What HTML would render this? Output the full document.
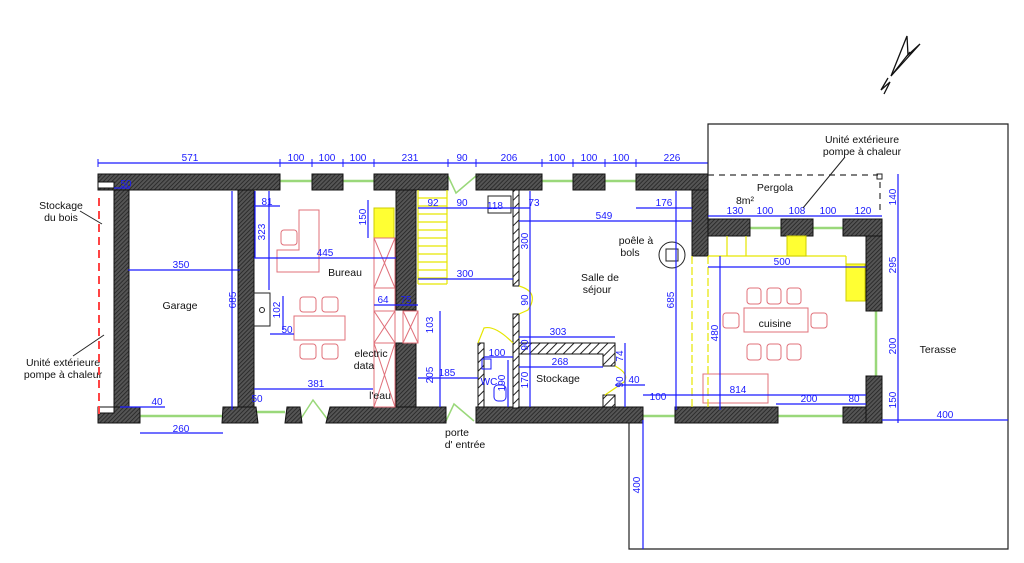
<!DOCTYPE html>
<html><head><meta charset="utf-8"><style>
html,body{margin:0;padding:0;background:#fff;}
svg{display:block;font-family:"Liberation Sans",sans-serif;}
.d{fill:#1a1aff;font-size:10px;text-anchor:middle;}
.t{fill:#111;font-size:10.5px;text-anchor:middle;}
.b{stroke:#1a1aff;stroke-width:1.2;fill:none;}
.p{stroke:#e0707a;stroke-width:1;fill:none;}
.y{stroke:#e6e600;stroke-width:1.2;fill:none;}
.g{stroke:#9ad87a;stroke-width:2.5;}
.w{fill:url(#h);stroke:#111;stroke-width:1;}
</style></head><body>
<svg width="1024" height="563" viewBox="0 0 1024 563">
<defs>
<pattern id="h" width="3" height="3" patternUnits="userSpaceOnUse" patternTransform="rotate(45)">
<rect width="3" height="3" fill="#555"/><line x1="0" y1="0" x2="0" y2="3" stroke="#222" stroke-width="1.6"/>
</pattern>
<pattern id="h2" width="6" height="6" patternUnits="userSpaceOnUse" patternTransform="rotate(45)">
<rect width="6" height="6" fill="#fff"/><line x1="0" y1="0" x2="0" y2="6" stroke="#222" stroke-width="2"/>
</pattern>
</defs>

<polyline points="708,174 708,124 1008,124 1008,549 629,549 629,420" fill="none" stroke="#222" stroke-width="1.2"/>
<polyline points="708,175 878,175" fill="none" stroke="#333" stroke-dasharray="6,5" stroke-width="1.2"/>
<line x1="880" y1="182" x2="880" y2="210" stroke="#333" stroke-dasharray="6,5" stroke-width="1.2"/>
<rect x="877" y="174" width="5" height="5" fill="none" stroke="#222"/>

<line class="g" x1="280" y1="181" x2="312" y2="181"/>
<line class="g" x1="343" y1="181" x2="374" y2="181"/>
<line class="g" x1="542" y1="181" x2="573" y2="181"/>
<line class="g" x1="605" y1="181" x2="636" y2="181"/>
<line class="g" x1="750" y1="228" x2="781" y2="228"/>
<line class="g" x1="813" y1="228" x2="843" y2="228"/>
<line class="g" x1="876" y1="311" x2="876" y2="376"/>
<line class="g" x1="778" y1="416" x2="843" y2="416"/>
<line class="g" x1="643" y1="416" x2="675" y2="416"/>
<line class="g" x1="140" y1="416" x2="223" y2="416"/>
<line class="g" x1="257" y1="412" x2="285" y2="412"/>
<polyline points="300,420 313,400 328,420" fill="none" stroke="#9ad87a" stroke-width="1.5"/>
<polyline points="448,176 456,193 476,176" fill="none" stroke="#9ad87a" stroke-width="1.5"/>
<polyline points="446,421 454,404 474,421" fill="none" stroke="#9ad87a" stroke-width="1.5"/>

<rect class="w" x="98" y="174" width="182" height="16"/>
<rect x="98" y="182" width="16" height="6" fill="#fff" stroke="#111"/>
<rect class="w" x="114" y="190" width="15" height="220"/>
<rect class="w" x="98" y="407" width="42" height="16"/>
<rect x="98" y="407" width="16" height="6" fill="#fff" stroke="#111"/>
<rect class="w" x="238" y="190" width="16" height="218"/>
<polygon class="w" points="223,407 256,407 258,423 222,423"/>
<polygon class="w" points="287,407 300,407 302,423 285,423"/>
<polygon class="w" points="330,407 446,407 446,423 326,423"/>
<rect class="w" x="312" y="174" width="31" height="16"/>
<rect class="w" x="374" y="174" width="74" height="16"/>
<rect class="w" x="396" y="190" width="20" height="120"/>
<rect class="w" x="396" y="343" width="20" height="64"/>
<rect class="w" x="476" y="174" width="66" height="16"/>
<rect class="w" x="573" y="174" width="32" height="16"/>
<rect class="w" x="636" y="174" width="72" height="16"/>
<rect class="w" x="692" y="190" width="16" height="66"/>
<rect class="w" x="708" y="219" width="42" height="17"/>
<rect class="w" x="781" y="219" width="32" height="17"/>
<rect class="w" x="843" y="219" width="39" height="17"/>
<rect class="w" x="866" y="236" width="16" height="75"/>
<rect class="w" x="866" y="376" width="16" height="47"/>
<rect class="w" x="843" y="407" width="23" height="16"/>
<rect class="w" x="675" y="407" width="103" height="16"/>
<rect class="w" x="476" y="407" width="167" height="16"/>
<rect x="513" y="190" width="6" height="96" fill="url(#h2)" stroke="#111"/>
<rect x="513" y="314" width="6" height="94" fill="url(#h2)" stroke="#111"/>
<rect x="478" y="343" width="6" height="64" fill="url(#h2)" stroke="#111"/>
<polygon points="519,343 615,343 615,366 603,366 603,354 519,354" fill="url(#h2)" stroke="#111"/>
<rect x="603" y="395" width="12" height="12" fill="url(#h2)" stroke="#111"/>

<path d="M519,286 Q540,292 528,310 L519,314" class="y"/>
<path d="M513,343 Q495,325 484,328 L478,343" class="y"/>
<path d="M615,366 Q630,374 624,382 L605,395" class="y"/>

<g class="y">
<line x1="418" y1="190" x2="418" y2="284"/>
<line x1="447" y1="190" x2="447" y2="284"/>
<line x1="418" y1="284" x2="447" y2="284"/>
<line x1="418" y1="198" x2="447" y2="198"/><line x1="418" y1="206" x2="447" y2="206"/><line x1="418" y1="214" x2="447" y2="214"/>
<line x1="418" y1="222" x2="447" y2="222"/><line x1="418" y1="230" x2="447" y2="230"/><line x1="418" y1="238" x2="447" y2="238"/>
<line x1="418" y1="246" x2="447" y2="246"/><line x1="418" y1="254" x2="447" y2="254"/><line x1="418" y1="262" x2="447" y2="262"/>
<line x1="418" y1="270" x2="447" y2="270"/><line x1="418" y1="278" x2="447" y2="278"/>
</g>
<rect x="374" y="208" width="20" height="30" fill="#ffff33" stroke="#cc0"/>

<g class="p">
<rect x="374" y="238" width="21" height="169"/>
<line x1="374" y1="238" x2="395" y2="288"/><line x1="395" y1="238" x2="374" y2="288"/>
<line x1="374" y1="288" x2="395" y2="288"/>
<rect x="374" y="311" width="21" height="32"/><line x1="374" y1="311" x2="395" y2="343"/><line x1="395" y1="311" x2="374" y2="343"/>
<line x1="374" y1="343" x2="395" y2="407"/><line x1="395" y1="343" x2="374" y2="407"/>
<rect x="403" y="311" width="15" height="32"/><line x1="403" y1="311" x2="418" y2="343"/><line x1="418" y1="311" x2="403" y2="343"/>
<polygon points="299,210 319,210 319,272 277,272 277,250 299,250"/>
<rect x="281" y="230" width="16" height="15" rx="3"/>
<rect x="294" y="316" width="51" height="24"/>
<rect x="300" y="297" width="16" height="15" rx="3"/><rect x="322" y="297" width="16" height="15" rx="3"/>
<rect x="300" y="344" width="16" height="15" rx="3"/><rect x="322" y="344" width="16" height="15" rx="3"/>
<rect x="744" y="308" width="64" height="24"/>
<rect x="747" y="288" width="14" height="16" rx="3"/><rect x="767" y="288" width="14" height="16" rx="3"/><rect x="787" y="288" width="14" height="16" rx="3"/>
<rect x="747" y="344" width="14" height="16" rx="3"/><rect x="767" y="344" width="14" height="16" rx="3"/><rect x="787" y="344" width="14" height="16" rx="3"/>
<rect x="723" y="313" width="16" height="15" rx="3"/><rect x="811" y="313" width="16" height="15" rx="3"/>
<rect x="703" y="374" width="65" height="29"/><line x1="710" y1="395" x2="768" y2="395"/>
</g>
<rect x="254" y="293" width="16" height="33" fill="#fff" stroke="#222"/><circle cx="262" cy="310" r="2.5" fill="none" stroke="#222"/>
<rect x="488" y="196" width="23" height="17" fill="none" stroke="#222"/>
<circle cx="672" cy="255" r="13" fill="none" stroke="#222"/><rect x="666" y="249" width="12" height="12" fill="none" stroke="#222"/>
<rect x="482" y="359" width="9" height="10" fill="none" stroke="#1a1aff"/>
<rect x="494" y="385" width="12" height="16" rx="4" fill="none" stroke="#1a1aff"/>

<g class="y">
<line x1="708" y1="256" x2="846" y2="256"/>
<line x1="846" y1="256" x2="846" y2="264"/>
<line x1="727" y1="236" x2="727" y2="256"/><line x1="746" y1="236" x2="746" y2="256"/>
<line x1="692" y1="256" x2="692" y2="407" stroke-dasharray="8,3"/>
<line x1="708" y1="256" x2="708" y2="407" stroke-dasharray="8,3"/>
</g>
<rect x="787" y="236" width="19" height="20" fill="#ffff33" stroke="#cc0"/>
<rect x="846" y="264" width="19" height="37" fill="#ffff33" stroke="#cc0"/>

<g class="b">
<line x1="98" y1="163" x2="708" y2="163"/>
<line x1="114" y1="188" x2="130" y2="188"/>
<line x1="128" y1="270" x2="240" y2="270"/>
<line x1="232" y1="191" x2="232" y2="410"/>
<line x1="120" y1="407" x2="165" y2="407"/><line x1="140" y1="433" x2="223" y2="433"/>
<line x1="254" y1="206" x2="280" y2="206"/><line x1="255" y1="191" x2="255" y2="258"/>
<line x1="269" y1="191" x2="269" y2="290"/>
<line x1="254" y1="258" x2="396" y2="258"/>
<line x1="283" y1="296" x2="283" y2="330"/><line x1="270" y1="334" x2="294" y2="334"/>
<line x1="254" y1="389" x2="373" y2="389"/>
<line x1="368" y1="200" x2="368" y2="238"/>
<line x1="374" y1="305" x2="418" y2="305"/>
<line x1="418" y1="208" x2="530" y2="208"/>
<line x1="440" y1="311" x2="440" y2="407"/><line x1="418" y1="378" x2="478" y2="378"/>
<line x1="418" y1="279" x2="513" y2="279"/>
<line x1="530" y1="191" x2="530" y2="354"/>
<line x1="519" y1="221" x2="692" y2="221"/>
<line x1="636" y1="208" x2="692" y2="208"/>
<line x1="519" y1="337" x2="615" y2="337"/>
<line x1="519" y1="367" x2="603" y2="367"/>
<line x1="530" y1="354" x2="530" y2="407"/>
<line x1="484" y1="357" x2="513" y2="357"/><line x1="508" y1="360" x2="508" y2="407"/>
<line x1="625" y1="343" x2="625" y2="366"/>
<line x1="625" y1="366" x2="625" y2="407"/><line x1="615" y1="385" x2="645" y2="385"/>
<line x1="676" y1="191" x2="676" y2="410"/>
<line x1="643" y1="395" x2="866" y2="395"/>
<line x1="643" y1="420" x2="643" y2="549"/>
<line x1="708" y1="216" x2="882" y2="216"/>
<line x1="708" y1="267" x2="866" y2="267"/>
<line x1="720" y1="256" x2="720" y2="410"/>
<line x1="776" y1="404" x2="866" y2="404"/>
<line x1="898" y1="174" x2="898" y2="423"/>
<line x1="882" y1="420" x2="1008" y2="420"/>
</g>
<g stroke="#1a1aff" stroke-width="1">
<line x1="98" y1="159" x2="98" y2="167"/><line x1="280" y1="159" x2="280" y2="167"/><line x1="312" y1="159" x2="312" y2="167"/><line x1="343" y1="159" x2="343" y2="167"/><line x1="374" y1="159" x2="374" y2="167"/><line x1="448" y1="159" x2="448" y2="167"/><line x1="476" y1="159" x2="476" y2="167"/><line x1="542" y1="159" x2="542" y2="167"/><line x1="573" y1="159" x2="573" y2="167"/><line x1="605" y1="159" x2="605" y2="167"/><line x1="636" y1="159" x2="636" y2="167"/>
</g>
<line x1="708" y1="160" x2="708" y2="174" stroke="#222"/>

<g class="d">
<text x="190" y="161">571</text><text x="296" y="161">100</text><text x="327" y="161">100</text><text x="358" y="161">100</text><text x="410" y="161">231</text><text x="462" y="161">90</text><text x="509" y="161">206</text><text x="557" y="161">100</text><text x="589" y="161">100</text><text x="621" y="161">100</text><text x="672" y="161">226</text>
<text x="126" y="187">50</text>
<text x="181" y="268">350</text>
<text x="157" y="405">40</text><text x="181" y="432">260</text>
<text x="257" y="402">50</text>
<text x="267" y="205">81</text>
<text x="325" y="256">445</text>
<text x="287" y="333">50</text>
<text x="316" y="387">381</text>
<text x="383" y="303">64</text><text x="406" y="303">75</text>
<text x="433" y="206">92</text><text x="462" y="206">90</text><text x="495" y="209">118</text><text x="534" y="206">73</text>
<text x="465" y="277">300</text>
<text x="447" y="376">185</text>
<text x="604" y="219">549</text><text x="664" y="206">176</text>
<text x="558" y="335">303</text><text x="560" y="365">268</text>
<text x="497" y="356">100</text><text x="489" y="385">WC</text>
<text x="634" y="383">40</text>
<text x="658" y="400">100</text>
<text x="735" y="214">130</text><text x="765" y="214">100</text><text x="797" y="214">108</text><text x="828" y="214">100</text><text x="863" y="214">120</text>
<text x="782" y="265">500</text>
<text x="738" y="393">814</text>
<text x="809" y="402">200</text><text x="854" y="402">80</text>
<text x="945" y="418">400</text>
</g>
<g class="d">
<text transform="translate(236,300) rotate(-90)">685</text>
<text transform="translate(265,232) rotate(-90)">323</text>
<text transform="translate(280,310) rotate(-90)">102</text>
<text transform="translate(366,217) rotate(-90)">150</text>
<text transform="translate(433,325) rotate(-90)">103</text>
<text transform="translate(433,375) rotate(-90)">205</text>
<text transform="translate(528,241) rotate(-90)">300</text>
<text transform="translate(528,300) rotate(-90)">90</text>
<text transform="translate(528,345) rotate(-90)">90</text>
<text transform="translate(528,380) rotate(-90)">170</text>
<text transform="translate(505,383) rotate(-90)">190</text>
<text transform="translate(623,356) rotate(-90)">74</text>
<text transform="translate(623,382) rotate(-90)">90</text>
<text transform="translate(674,300) rotate(-90)">685</text>
<text transform="translate(640,485) rotate(-90)">400</text>
<text transform="translate(718,333) rotate(-90)">480</text>
<text transform="translate(896,197) rotate(-90)">140</text>
<text transform="translate(896,265) rotate(-90)">295</text>
<text transform="translate(896,346) rotate(-90)">200</text>
<text transform="translate(896,400) rotate(-90)">150</text>
</g>

<g class="t">
<text x="61" y="209">Stockage</text><text x="61" y="221">du bois</text>
<text x="63" y="366">Unité extérieure</text><text x="63" y="378">pompe à chaleur</text>
<text x="180" y="309">Garage</text>
<text x="345" y="276">Bureau</text>
<text x="371" y="357">electric</text><text x="364" y="369">data</text>
<text x="380" y="399">l'eau</text>
<text x="600" y="281">Salle de</text><text x="597" y="293">séjour</text>
<text x="636" y="244">poêle à</text><text x="630" y="256">bols</text>
<text x="558" y="382">Stockage</text>
<text x="457" y="436">porte</text><text x="465" y="448">d' entrée</text>
<text x="775" y="191">Pergola</text><text x="745" y="204">8m²</text>
<text x="862" y="143">Unité extérieure</text><text x="862" y="155">pompe à chaleur</text>
<text x="775" y="327">cuisine</text>
<text x="938" y="353">Terasse</text>
</g>
<line x1="80" y1="211" x2="102" y2="224" stroke="#222"/>
<line x1="73" y1="356" x2="104" y2="335" stroke="#222"/>
<line x1="845" y1="157" x2="803" y2="208" stroke="#222"/>
<line x1="99" y1="198" x2="99" y2="415" stroke="#f44" stroke-width="2" stroke-dasharray="8,5"/>

<g fill="none" stroke="#111" stroke-width="1.3">
<polyline points="891,76 907,36 908,55 920,44 891,76"/>
<line x1="891" y1="76" x2="910" y2="52"/>
<polyline points="888,78 881,90 890,82 884,94"/>
</g>
</svg>
</body></html>
